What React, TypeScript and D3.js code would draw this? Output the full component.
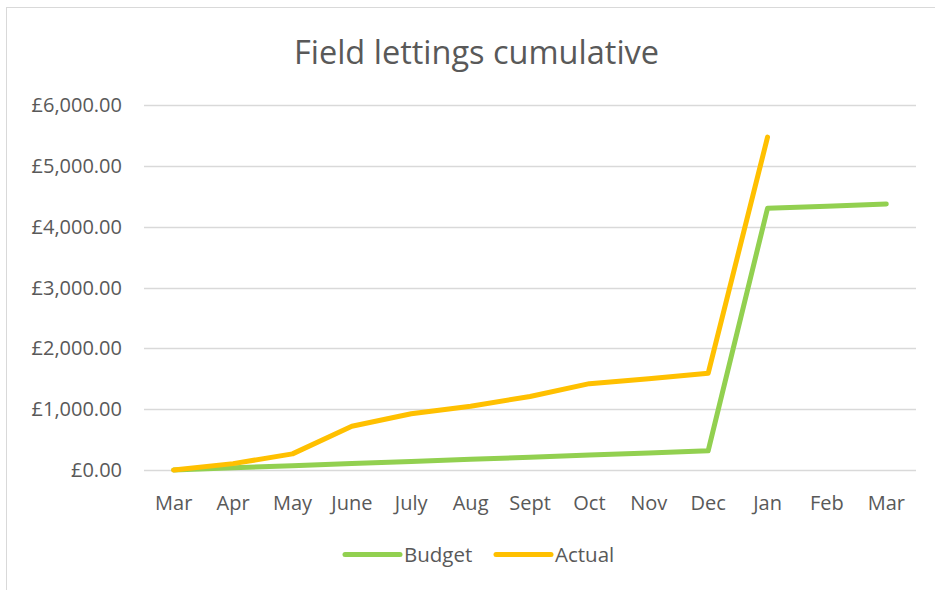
import React, { useEffect, useRef } from "react";
import * as d3 from "d3";

const categories = ["Mar", "Apr", "May", "June", "July", "Aug", "Sept", "Oct", "Nov", "Dec", "Jan", "Feb", "Mar"];
const budgetValues = [0, 35, 70, 105, 140, 175, 210, 245, 280, 315, 4305, 4340, 4375];
const actualValues: (number | null)[] = [0, 105, 265, 720, 925, 1050, 1210, 1420, 1500, 1590, 5475, null, null];
const yTicks = [0, 1000, 2000, 3000, 4000, 5000, 6000];
const seriesNames = ["Budget", "Actual"];
const seriesColors = ["#92D050", "#FFC000"];
const titleText = "Field lettings cumulative";

const W = 935;
const H = 590;
const FONT = "'Open Sans', sans-serif";

export default function App() {
  const ref = useRef<SVGSVGElement>(null);

  useEffect(() => {
    const svg = d3.select(ref.current);
    svg.selectAll("*").remove();

    const left = 144, right = 916, top = 105.2, bottom = 470;
    const x = d3.scaleBand<number>().domain(d3.range(categories.length)).range([left, right]);
    const y = d3.scaleLinear().domain([0, 6000]).range([bottom, top]);

    // border
    svg.append("rect").attr("x", 6.5).attr("y", 7.5).attr("width", W + 20).attr("height", H + 20)
      .attr("fill", "white").attr("stroke", "#D9D9D9").attr("stroke-width", 1);

    // title
    svg.append("text").attr("x", 476.5).attr("y", 63.5).attr("text-anchor", "middle")
      .attr("font-family", FONT).attr("font-size", 32.5).attr("fill", "#595959").text(titleText);

    // grid
    svg.append("g").selectAll("line").data(yTicks).join("line")
      .attr("x1", left).attr("x2", right)
      .attr("y1", d => Math.round(y(d)) + 0.5).attr("y2", d => Math.round(y(d)) + 0.5)
      .attr("stroke", "#D9D9D9").attr("stroke-width", 1.3);

    const fmt = (v: number) => "£" + d3.format(",.2f")(v);
    svg.append("g").selectAll("text").data(yTicks).join("text")
      .attr("x", 122).attr("y", d => y(d) + 7).attr("text-anchor", "end")
      .attr("font-family", FONT).attr("font-size", 20).attr("fill", "#595959").text(d => fmt(d));

    svg.append("g").selectAll("text").data(categories).join("text")
      .attr("x", (_, i) => (x(i) as number) + x.bandwidth() / 2).attr("y", 509.5)
      .attr("text-anchor", "middle")
      .attr("font-family", FONT).attr("font-size", 20).attr("fill", "#595959").text(d => d);

    const cx = (i: number) => (x(i) as number) + x.bandwidth() / 2;
    const line = d3.line<number | null>()
      .defined(d => d !== null)
      .x((_, i) => cx(i)).y(d => y(d as number));

    [budgetValues, actualValues].forEach((vals, k) => {
      svg.append("path").datum(vals as (number | null)[]).attr("d", line)
        .attr("fill", "none").attr("stroke", seriesColors[k]).attr("stroke-width", 5)
        .attr("stroke-linejoin", "round").attr("stroke-linecap", "round");
    });

    // legend
    const legendX = [345, 496];
    seriesNames.forEach((n, k) => {
      const g = svg.append("g");
      g.append("line").attr("x1", legendX[k]).attr("x2", legendX[k] + 55).attr("y1", 554.5).attr("y2", 554.5)
        .attr("stroke", seriesColors[k]).attr("stroke-width", 5).attr("stroke-linecap", "round");
      g.append("text").attr("x", legendX[k] + 59).attr("y", 562)
        .attr("font-family", FONT).attr("font-size", 20.5).attr("fill", "#595959").text(n);
    });
  }, []);

  return (
    <svg ref={ref} width={W} height={H} style={{ position: "absolute", left: 0, top: 0, background: "white" }} />
  );
}
